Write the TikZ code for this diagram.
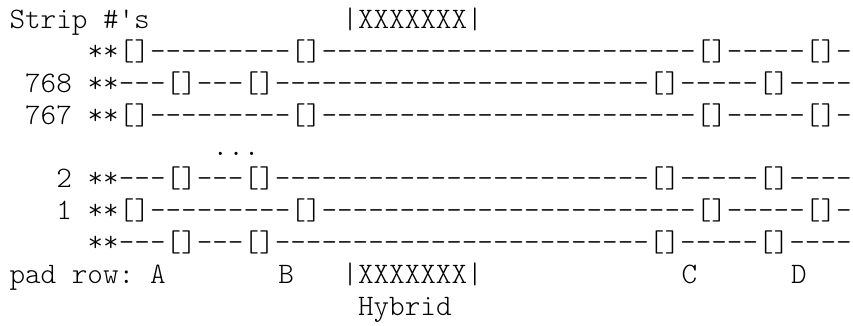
\documentclass[tikz,border=0pt]{standalone}
\usepackage{fontspec}
\newfontfamily\lightmono{lmmonolt10-regular}[Extension=.otf, WordSpace={1,0,0}]
\ExplSyntaxOn
\cs_new:Npn \dashrun #1 { \prg_replicate:nn {#1} { -{} } }
\ExplSyntaxOff
\newcommand\stripodd{**[]\dashrun{9}[]\dashrun{24}[]\dashrun{5}[]\dashrun{1}}
\newcommand\stripeven{**\dashrun{3}[]\dashrun{3}[]\dashrun{24}[]\dashrun{5}[]\dashrun{4}}
\tikzset{
  ascii/.style={anchor=base west, inner sep=0pt, outer sep=0pt,
    font=\lightmono\fontsize{29.7}{30}\selectfont, text=black}
}
\begin{document}
\begin{tikzpicture}[x=15.63pt, y=-31.85pt]
  \fill[white] (0pt,0pt) rectangle (853pt,-325pt);
  \useasboundingbox (0pt,0pt) rectangle (853pt,-325pt);
  \begin{scope}[shift={(9.5pt,-28.5pt)}]
    % row 0
    \node[ascii] (title) at (0,0) {Strip \#'s};
    \node[ascii] (hybtop) at (21.3,0) {|XXXXXXX|};
    % strips
    \node[ascii] (top) at (5,1) {\stripodd};
    \node[ascii] (n768) at (1,2) {768};
    \node[ascii] (s768) at (5,2) {\stripeven};
    \node[ascii] (n767) at (1,3) {767};
    \node[ascii] (s767) at (5,3) {\stripodd};
    \node[ascii] (dots) at (13,4) {...};
    \node[ascii] (n2) at (3,5) {2};
    \node[ascii] (s2) at (5,5) {\stripeven};
    \node[ascii] (n1) at (3,6) {1};
    \node[ascii] (s1) at (5,6) {\stripodd};
    \node[ascii] (bottom) at (5,7) {\stripeven};
    % pad row
    \node[ascii] (padrow) at (0,8) {pad row:};
    \node[ascii] (padA) at (9,8) {A};
    \node[ascii] (padB) at (17.2,8) {B};
    \node[ascii] (hybbot) at (21.3,8) {|XXXXXXX|};
    \node[ascii] (padC) at (43,8) {C};
    \node[ascii] (padD) at (50,8) {D};
    \node[ascii] (hybrid) at (22.3,9) {Hybrid};
  \end{scope}
\end{tikzpicture}
\end{document}
